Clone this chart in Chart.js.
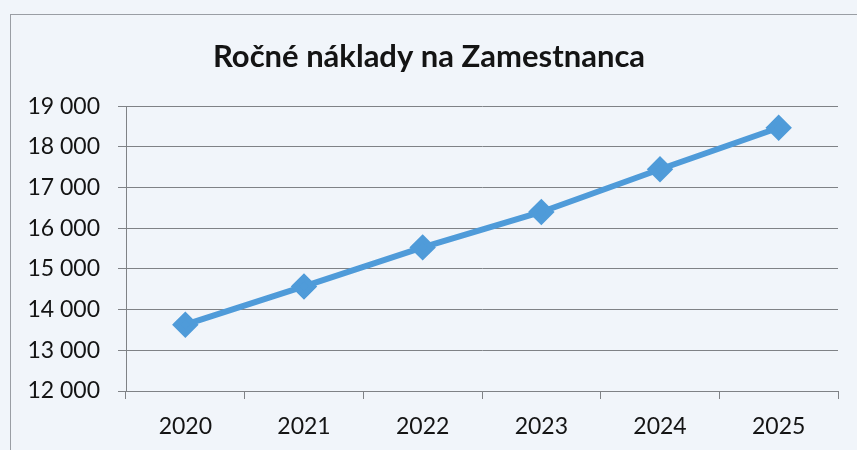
<!DOCTYPE html>
<html>
<head>
<meta charset="utf-8">
<script src="https://cdn.jsdelivr.net/npm/chart.js@4"></script>
<style>
  body { margin: 0; background: #f1f5fa; }
  .wrap { position: relative; width: 857px; height: 450px; overflow: hidden; }
  .frame { position: absolute; left: 10px; top: 14px; width: 900px; height: 500px;
           border-left: 1px solid #9a9ea4; border-top: 1px solid #9a9ea4; }
  canvas { position: absolute; left: 0; top: 0; }
</style>
</head>
<body>
<div class="wrap">
  <div class="frame"></div>
  <canvas id="chart" width="857" height="450"></canvas>
</div>
<script>
const years = ["2020", "2021", "2022", "2023", "2024", "2025"];
const costs = [13630, 14570, 15530, 16400, 17450, 18470];
const yMin = 12000;
const yMax = 19000;
const yStep = 1000;

const ctx = document.getElementById("chart");

Chart.defaults.font.family = "Lato, 'Open Sans', sans-serif";
Chart.defaults.color = "#141414";

new Chart(ctx, {
  type: "line",
  data: {
    labels: years,
    datasets: [
      {
        label: "Ročné náklady",
        data: costs,
        borderColor: "#4f9bd9",
        backgroundColor: "#4f9bd9",
        borderWidth: 6,
        pointStyle: "rectRot",
        pointRadius: 9,
        pointHoverRadius: 9,
        tension: 0,
      },
    ],
  },
  options: {
    responsive: false,
    animation: false,
    layout: {
      padding: { left: 20, right: 19, top: 24, bottom: 0 },
    },
    plugins: {
      legend: { display: false },
      tooltip: { enabled: false },
      title: {
        display: true,
        text: "Ročné náklady na Zamestnanca",
        color: "#141414",
        font: { size: 31, weight: "bold" },
        padding: { top: 14, bottom: 31 },
      },
    },
    scales: {
      x: {
        offset: true,
        grid: {
          offset: true,
          drawOnChartArea: false,
          drawTicks: true,
          tickLength: 8,
          color: "#7f8286",
        },
        border: { color: "#7f8286", width: 1 },
        ticks: { font: { size: 23 }, padding: 14, maxRotation: 0 },
        afterFit: (scale) => { scale.height = 59; },
      },
      y: {
        min: yMin,
        max: yMax,
        grid: { color: "#7f8286", tickLength: 8 },
        border: { color: "#7f8286", width: 1 },
        ticks: {
          stepSize: yStep,
          font: { size: 23 },
          padding: 18,
          callback: (v) => String(v).replace(/\B(?=(\d{3})+(?!\d))/g, " "),
        },
        afterFit: (scale) => { scale.width = 106; },
      },
    },
  },
});
</script>
</body>
</html>
